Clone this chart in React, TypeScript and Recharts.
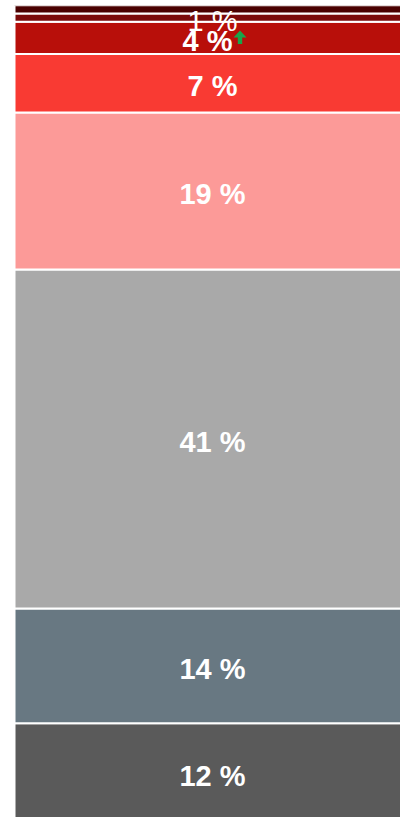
import React from "react";
import { BarChart, Bar, XAxis, YAxis, LabelList } from "recharts";

const categories = ["Total"];
const seriesKeys = ["s1", "s2", "s3", "s4", "s5", "s6", "s7", "s8"];
const seriesValues = [12, 13.9, 41.1, 19, 7.1, 3.9, 1, 1];
const seriesColors = ["#5a5a5a", "#687882", "#a9a9a9", "#fc9a98", "#f93a33", "#b80f0a", "#7b0a0a", "#4a0000"];
const labelShown = [true, true, true, true, true, true, true, false];
const labelBold = [true, true, true, true, true, true, false, false];
const arrowUp = [false, false, false, false, false, true, false, false];

const data = categories.map((c) => {
  const row: Record<string, any> = { name: c };
  seriesKeys.forEach((k, i) => (row[k] = seriesValues[i]));
  return row;
});
const total = seriesValues.reduce((a, b) => a + b, 0);

const makeLabel = (i: number) => (props: any) => {
  const { x, y, width, height, value } = props;
  if (!labelShown[i]) return null;
  const cx = Number(x) + Number(width) / 2;
  const cy = Number(y) + Number(height) / 2;
  const txt = `${Math.round(Number(value))} %`;
  const tx = arrowUp[i] ? cx - 5 : cx;
  return (
    <g>
      <text
        x={tx}
        y={cy + 3}
        textAnchor="middle"
        dominantBaseline="central"
        fill="#ffffff"
        fontFamily="'Liberation Sans', Arial, sans-serif"
        fontWeight={labelBold[i] ? 700 : 400}
        fontSize={29}
      >
        {txt}
      </text>
      {arrowUp[i] ? (
        <g transform={`translate(${cx + 27.5}, ${cy})`}>
          <polygon points="0,-7.5 6.5,-0.5 2.2,-0.5 2.2,6 -2.2,6 -2.2,-0.5 -6.5,-0.5" fill="#19a54a" />
        </g>
      ) : null}
    </g>
  );
};

export default function App() {
  return (
    <div style={{ position: "fixed", left: 0, top: 0, width: 400, height: 817, overflow: "hidden", background: "#fff" }}>
      <BarChart
        width={412}
        height={830}
        data={data}
        margin={{ top: 5.3, right: 1.5, bottom: 7.7, left: 14.5 }}
        barCategoryGap={0}
      >
        <XAxis dataKey="name" hide />
        <YAxis hide domain={[0, total]} allowDataOverflow />
        {seriesKeys.map((k, i) => (
          <Bar
            key={k}
            dataKey={k}
            stackId="a"
            fill={seriesColors[i]}
            stroke="#ffffff"
            strokeWidth={2}
            isAnimationActive={false}
          >
            <LabelList dataKey={k} content={makeLabel(i)} />
          </Bar>
        ))}
      </BarChart>
    </div>
  );
}
